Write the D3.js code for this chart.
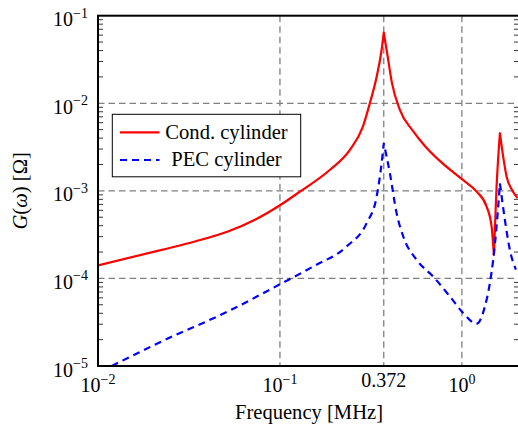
<!DOCTYPE html>
<html>
<head>
<meta charset="utf-8">
<script src="https://cdn.jsdelivr.net/npm/d3@7"></script>
<style>
  body { margin: 0; background: #fff; }
  svg text { fill: #000; }
</style>
</head>
<body>
<div id="container"></div>
<script>
/* DATA */
// Cond. cylinder (frequency in MHz, G in ohm)
const condFreq = [0.01, 0.0224, 0.0341, 0.0518, 0.0729, 0.1, 0.1288, 0.1884, 0.2424, 0.2857, 0.3124, 0.340, 0.362, 0.372,
  0.3897, 0.4125, 0.456, 0.538, 0.626, 0.767, 1.0, 1.205, 1.367, 1.456, 1.499, 1.551, 1.618, 1.686, 1.760, 1.883, 2.023];
const condG = [1.41e-4, 2.12e-4, 2.64e-4, 3.43e-4, 4.67e-4, 6.84e-4, 9.8e-4, 1.74e-3, 2.94e-3, 5.42e-3, 1.01e-2, 2.01e-2, 4.06e-2, 6.4e-2,
  3.56e-2, 1.71e-2, 8.4e-3, 4.84e-3, 3.26e-3, 2.14e-3, 1.36e-3, 9.8e-4, 6.62e-4, 3.92e-4, 1.86e-4, 1.12e-3, 4.55e-3, 2.46e-3, 1.46e-3, 1.03e-3, 8.26e-4];
// sharp points (resonance cusps) where the smooth curve is broken
const condCusps = [0.372, 1.499, 1.618];

// PEC cylinder
const pecFreq = [0.0119, 0.0224, 0.0518, 0.1, 0.1524, 0.2326, 0.2996, 0.340, 0.362, 0.372, 0.402, 0.4377, 0.476, 0.564,
  0.6955, 0.859, 1.016, 1.205, 1.338, 1.425, 1.486, 1.551, 1.618, 1.723, 1.835, 1.98];
const pecG = [1.0e-5, 1.91e-5, 4.2e-5, 8.57e-5, 1.37e-4, 2.32e-4, 4.28e-4, 8.61e-4, 2.07e-3, 3.5e-3, 1.59e-3, 5.57e-4, 3.01e-4, 1.63e-4,
  1.05e-4, 6.22e-5, 4.03e-5, 3.04e-5, 4.79e-5, 8.85e-5, 1.63e-4, 3.92e-4, 1.22e-3, 4.67e-4, 2.12e-4, 1.26e-4];
const pecCusps = [0.372, 1.618];

const xTickValues = [0.01, 0.1, 0.372, 1];
const xTickExp = ["−2", "−1", null, "0"];
const xTickText = ["10", "10", "0.372", "10"];
const yTickValues = [1e-5, 1e-4, 1e-3, 1e-2, 1e-1];
const yTickExp = ["−5", "−4", "−3", "−2", "−1"];
const legendLabels = ["Cond. cylinder", "PEC cylinder"];

/* CONSTANTS */
const width = 518;
const height = 428;
const pLeft = 98, pRight = 519, pTop = 15.7, pBottom = 366;
const serif = "'Liberation Serif', 'DejaVu Serif', serif";

const svg = d3.select("#container")
  .append("svg")
  .attr("width", width)
  .attr("height", height)
  .attr("font-family", serif);

/* SCALES */
const xScale = d3.scaleLog().domain([0.01, 2.06]).range([pLeft, pRight]);
const yScale = d3.scaleLog().domain([1e-5, 1e-1]).range([pBottom, pTop]);

svg.append("clipPath").attr("id", "plotclip")
  .append("rect")
  .attr("x", pLeft).attr("y", pTop)
  .attr("width", pRight - pLeft).attr("height", pBottom - pTop);

// grid
svg.append("g")
  .selectAll("line")
  .data(xTickValues.slice(1))
  .join("line")
  .attr("x1", d => xScale(d)).attr("x2", d => xScale(d))
  .attr("y1", pTop).attr("y2", pBottom)
  .attr("stroke", "#808080").attr("stroke-width", 1.3)
  .attr("stroke-dasharray", "6.5,4");

svg.append("g")
  .selectAll("line")
  .data(yTickValues.slice(1, -1))
  .join("line")
  .attr("y1", d => yScale(d)).attr("y2", d => yScale(d))
  .attr("x1", pLeft).attr("x2", pRight)
  .attr("stroke", "#808080").attr("stroke-width", 1.3)
  .attr("stroke-dasharray", "6.5,4");

// minor ticks on y (left + right)
const minor = [];
for (let e = -5; e < -1; e++) for (let k = 2; k <= 9; k++) minor.push(k * Math.pow(10, e));
svg.append("g")
  .selectAll("line")
  .data(minor)
  .join("line")
  .attr("x1", pLeft).attr("x2", pLeft + 5)
  .attr("y1", d => yScale(d)).attr("y2", d => yScale(d))
  .attr("stroke", "#000").attr("stroke-width", 0.8);
svg.append("g")
  .selectAll("line")
  .data(minor)
  .join("line")
  .attr("x1", pRight - 5).attr("x2", pRight)
  .attr("y1", d => yScale(d)).attr("y2", d => yScale(d))
  .attr("stroke", "#000").attr("stroke-width", 0.8);

/* LINES */
const line = d3.line()
  .x(d => xScale(d[0]))
  .y(d => yScale(d[1]))
  .curve(d3.curveMonotoneX);

// split a series at its cusps so each piece is smooth but peaks stay sharp
function pieces(freq, g, cusps) {
  const out = [[]];
  freq.forEach((f, i) => {
    out[out.length - 1].push([f, g[i]]);
    if (cusps.includes(f) && i < freq.length - 1) out.push([[f, g[i]]]);
  });
  return out;
}
function pathOf(freq, g, cusps) {
  return pieces(freq, g, cusps).map(p => line(p)).join("")
    .replace(/M/g, (m, i) => i === 0 ? "M" : "L");
}

const curves = svg.append("g").attr("clip-path", "url(#plotclip)");
curves.append("path")
  .attr("d", pathOf(condFreq, condG, condCusps))
  .attr("fill", "none")
  .attr("stroke", "#ff0000")
  .attr("stroke-width", 2.2)
  .attr("stroke-linejoin", "round");
curves.append("path")
  .attr("d", pathOf(pecFreq, pecG, pecCusps))
  .attr("fill", "none")
  .attr("stroke", "#0000ff")
  .attr("stroke-width", 2.2)
  .attr("stroke-dasharray", "7,5");

/* AXES BOX */
svg.append("rect")
  .attr("x", pLeft).attr("y", pTop)
  .attr("width", pRight - pLeft).attr("height", pBottom - pTop)
  .attr("fill", "none").attr("stroke", "#000").attr("stroke-width", 2);

// y tick labels
const yLab = svg.append("g")
  .selectAll("text")
  .data(yTickValues)
  .join("text")
  .attr("x", 88)
  .attr("y", d => yScale(d) + 10.5)
  .attr("text-anchor", "end")
  .style("font-size", "20px");
yLab.append("tspan").text("10");
yLab.append("tspan").attr("dy", -8.5).style("font-size", "14px").text((d, i) => yTickExp[i]);

// x tick labels
const xLab = svg.append("g")
  .selectAll("text")
  .data(xTickValues)
  .join("text")
  .attr("x", d => xScale(d))
  .attr("y", (d, i) => xTickExp[i] ? 392 : 387)
  .attr("text-anchor", "middle")
  .style("font-size", "20px");
xLab.append("tspan").text((d, i) => xTickText[i]);
xLab.filter((d, i) => xTickExp[i])
  .append("tspan").attr("dy", -8.5).style("font-size", "14px")
  .text(d => xTickExp[xTickValues.indexOf(d)]);

// axis titles
svg.append("text")
  .attr("x", 309)
  .attr("y", 419)
  .attr("text-anchor", "middle")
  .style("font-size", "20.6px")
  .text("Frequency [MHz]");

const yt = svg.append("text")
  .attr("transform", `translate(27,${(pTop + pBottom) / 2}) rotate(-90)`)
  .attr("text-anchor", "middle")
  .style("font-size", "20.6px");
yt.append("tspan").style("font-style", "italic").text("G");
yt.append("tspan").text("(");
yt.append("tspan").style("font-style", "italic").text("ω");
yt.append("tspan").text(") [Ω]");

/* LEGEND */
const legend = svg.append("g");
legend.append("rect")
  .attr("x", 112.3).attr("y", 114.3)
  .attr("width", 188.4).attr("height", 62.5)
  .attr("fill", "#fff").attr("stroke", "#000").attr("stroke-width", 1);
const legColors = ["#ff0000", "#0000ff"];
const legDash = [null, "7,5"];
legendLabels.forEach((lab, i) => {
  const y = 132.3 + i * 27.7;
  legend.append("line")
    .attr("x1", 120).attr("x2", 159.5)
    .attr("y1", y).attr("y2", y)
    .attr("stroke", legColors[i]).attr("stroke-width", 2.2)
    .attr("stroke-dasharray", legDash[i]);
  legend.append("text")
    .attr("x", 226.5).attr("y", y + 6.3)
    .attr("text-anchor", "middle")
    .style("font-size", "20.6px")
    .text(lab);
});
</script>
</body>
</html>
